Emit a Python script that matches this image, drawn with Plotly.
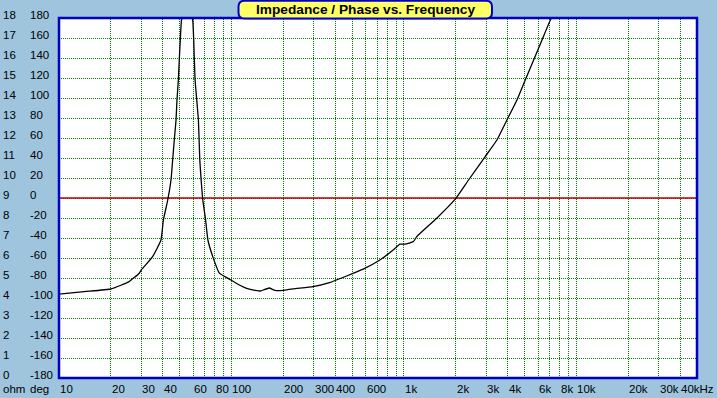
import math
import plotly.graph_objects as go

# ---------------- data ----------------
freq_hz = [10, 14, 20, 25.5, 29.2, 30, 34.9, 39.0, 40.3, 42.7, 44.6, 45.6, 46.6,
           47.7, 48.3, 49.2, 49.8, 50.5, 51.3, 52, 55, 58.9, 59.6, 60.4, 61.5,
           62.9, 64.3, 65.5, 66.7, 68.2, 70.8, 73.0, 77.9, 85.1, 97.3, 111, 116,
           127, 147.6, 153, 165.6, 178.6, 199, 227, 297, 370, 465, 580, 725, 866,
           948, 1013, 1134, 1186, 1549, 1982, 2368, 2958, 3458, 3954, 4520, 5050,
           5648, 6313, 7063, 7200, 10000, 20000, 50000]
impedance_ohm = [4.19, 4.32, 4.45, 4.82, 5.24, 5.40, 6.07, 6.90, 7.90, 8.90, 9.90,
                 10.9, 11.9, 12.9, 13.9, 14.9, 15.9, 16.9, 17.9, 18.0, 18.0, 18.0,
                 17.9, 16.9, 14.9, 13.9, 12.9, 10.9, 9.9, 8.9, 7.9, 6.9, 6.07, 5.24,
                 4.94, 4.65, 4.57, 4.44, 4.35, 4.40, 4.50, 4.38, 4.38, 4.46, 4.57,
                 4.77, 5.10, 5.44, 5.90, 6.40, 6.69, 6.69, 6.82, 7.07, 7.99, 8.94,
                 9.90, 11.07, 11.9, 12.9, 13.9, 14.9, 15.9, 16.9, 17.9, 18.0, 18.0,
                 18.0, 18.0]

ohm_values = [0, 1, 2, 3, 4, 5, 6, 7, 8, 9, 10, 11, 12, 13, 14, 15, 16, 17, 18]
ohm_labels = ["0", "1", "2", "3", "4", "5", "6", "7", "8", "9", "10", "11", "12",
              "13", "14", "15", "16", "17", "18"]
deg_labels = ["-180", "-160", "-140", "-120", "-100", "-80", "-60", "-40", "-20",
              "0", "20", "40", "60", "80", "100", "120", "140", "160", "180"]

freq_tick_values = [10, 20, 30, 40, 60, 80, 100, 200, 300, 400, 600, 1000, 2000,
                    3000, 4000, 6000, 8000, 10000, 20000, 30000, 40000]
freq_tick_labels = ["10", "20", "30", "40", "60", "80", "100", "200", "300", "400",
                    "600", "1k", "2k", "3k", "4k", "6k", "8k", "10k", "20k", "30k",
                    "40kHz"]

grid_freqs = [m * 10 ** e for e in range(1, 5) for m in range(1, 10) if m * 10 ** e <= 40000]

title_text = "Impedance / Phase vs. Frequency"
unit_labels = ["ohm", "deg"]

# ---------------- layout geometry ----------------
W, H = 717, 398
ML, MR, MT, MB = 59, 20, 18, 20
PW, PH = W - ML - MR, H - MT - MB
XR = [1, math.log10(50000)]
YR = [0, 18]

def px2x(px):
    return (px - ML) / PW

def py2y(py):
    return (H - MB - py) / PH

FONT = "Liberation Sans, Arial, sans-serif"
BLUE = "#0000C8"
GREEN = "#008000"
LBL = dict(family=FONT, size=11.5, color="black")

fig = go.Figure()
fig.add_trace(go.Scatter(x=freq_hz, y=impedance_ohm, mode="lines",
                         line=dict(color="black", width=1.3, shape="spline", smoothing=0.4),
                         hoverinfo="skip", showlegend=False))

annotations = []
for v, ol, dl in zip(ohm_values, ohm_labels, deg_labels):
    annotations.append(dict(x=px2x(1), xref="paper", y=v, yref="y", text=ol,
                            xanchor="left", yanchor="middle", yshift=3,
                            showarrow=False, font=LBL))
    annotations.append(dict(x=px2x(28), xref="paper", y=v, yref="y", text=dl,
                            xanchor="left", yanchor="middle", yshift=3,
                            showarrow=False, font=LBL))
for f, t in zip(freq_tick_values, freq_tick_labels):
    annotations.append(dict(x=math.log10(f), xref="x", y=py2y(389), yref="paper",
                            text=t, xanchor="left", yanchor="middle", xshift=-1,
                            showarrow=False, font=LBL))
annotations.append(dict(x=px2x(1), xref="paper", y=py2y(389), yref="paper",
                        text=unit_labels[0], xanchor="left", yanchor="middle",
                        showarrow=False, font=LBL))
annotations.append(dict(x=px2x(28), xref="paper", y=py2y(389), yref="paper",
                        text=unit_labels[1], xanchor="left", yanchor="middle",
                        showarrow=False, font=LBL))
annotations.append(dict(x=px2x(365), xref="paper", y=py2y(9.5), yref="paper",
                        text="<b>" + title_text + "</b>", xanchor="center",
                        yanchor="middle", showarrow=False,
                        font=dict(family=FONT, size=13.7, color="black")))

# dotted grid, snapped to pixel centres so the 1px dots stay crisp
vpath = []
for f in grid_freqs[1:]:
    px = ML + PW * (math.log10(f) - XR[0]) / (XR[1] - XR[0])
    px = math.floor(px) + 0.5
    vpath.append(f"M {px2x(px):.6f},0 L {px2x(px):.6f},1")
hpath = []
for v in ohm_values[1:-1]:
    py = MT + PH * (YR[1] - v) / (YR[1] - YR[0])
    py = math.floor(py) + 0.5
    hpath.append(f"M 0,{py2y(py):.6f} L 1,{py2y(py):.6f}")

x0, x1, y0, y1, r = 238.5, 492, 0.8, 18.5, 6
def P(px, py):
    return f"{px2x(px):.5f},{py2y(py):.5f}"
path = (f"M {P(x0 + r, y0)} L {P(x1 - r, y0)} Q {P(x1, y0)} {P(x1, y0 + r)} "
        f"L {P(x1, y1 - r)} Q {P(x1, y1)} {P(x1 - r, y1)} "
        f"L {P(x0 + r, y1)} Q {P(x0, y1)} {P(x0, y1 - r)} "
        f"L {P(x0, y0 + r)} Q {P(x0, y0)} {P(x0 + r, y0)} Z")

shapes = [
    dict(type="path", xref="paper", yref="paper", path=" ".join(vpath),
         line=dict(color=GREEN, width=1, dash="1px,1px"), layer="below"),
    dict(type="path", xref="paper", yref="paper", path=" ".join(hpath),
         line=dict(color=GREEN, width=1, dash="1px,1px"), layer="below"),
    dict(type="line", xref="paper", x0=0, x1=1, yref="y", y0=9, y1=9,
         line=dict(color="#C00000", width=1.6), layer="below"),
    dict(type="rect", xref="paper", yref="paper", x0=0, x1=1, y0=0, y1=1,
         line=dict(color=BLUE, width=2.5), layer="above"),
    dict(type="path", xref="paper", yref="paper", path=path,
         fillcolor="#FFFF66", line=dict(color=BLUE, width=2), layer="above"),
]

fig.update_layout(
    width=W, height=H,
    margin=dict(l=ML, r=MR, t=MT, b=MB, pad=0),
    paper_bgcolor="#9FC5DE", plot_bgcolor="white",
    showlegend=False,
    annotations=annotations, shapes=shapes,
    xaxis=dict(type="log", range=XR, showticklabels=False, ticks="",
               showgrid=False, zeroline=False, showline=False, fixedrange=True),
    yaxis=dict(range=YR, showticklabels=False, ticks="", showgrid=False,
               zeroline=False, showline=False, fixedrange=True),
)

css = "body{margin:0;padding:0;background:#9FC5DE;}"
fig.write_html("out.html", config={"displayModeBar": False},
               post_script=("var s=document.createElement('style');s.textContent='" + css +
                            "';document.head.appendChild(s);"))
